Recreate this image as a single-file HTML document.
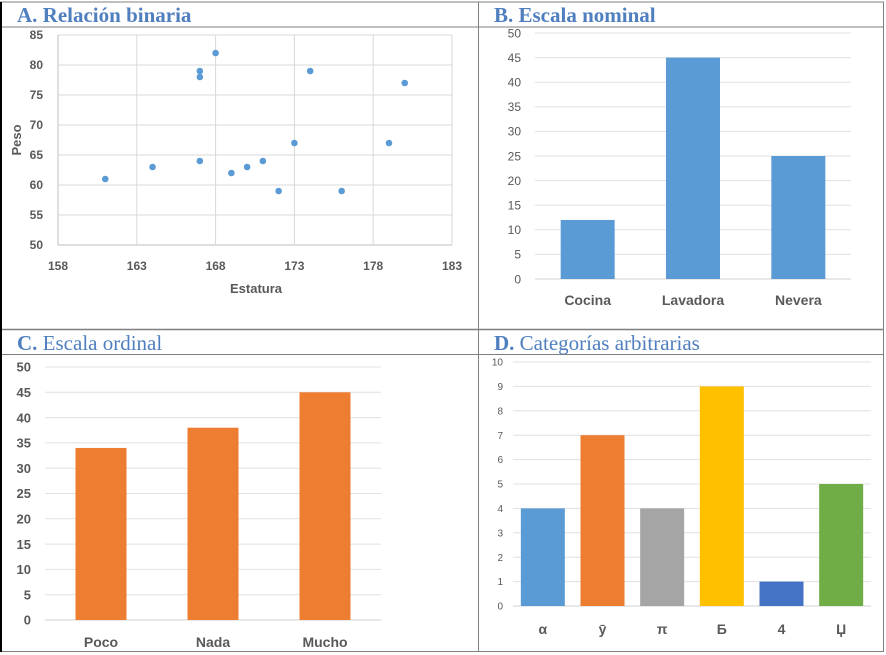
<!DOCTYPE html>
<html><head><meta charset="utf-8"><style>
body{margin:0;background:#fff}
svg{display:block}
.t{font-family:"Liberation Serif","DejaVu Serif",serif;font-size:21px;fill:#4f7fbf}
.ax{font-family:"Liberation Sans","DejaVu Sans",sans-serif;fill:#595959}
</style></head><body>
<svg id="s" width="886" height="655" viewBox="0 0 886 655" xmlns="http://www.w3.org/2000/svg">
<rect x="0" y="0" width="886" height="655" fill="#fff"/>
<g stroke="#7f7f7f" fill="none">
<line x1="0" y1="2" x2="884" y2="2"/>
<line x1="1" y1="27" x2="884" y2="27"/>
<line x1="1" y1="329.5" x2="884" y2="329.5" stroke-width="1.5"/>
<line x1="1" y1="354.5" x2="884" y2="354.5"/>
<line x1="1" y1="651.5" x2="884" y2="651.5"/>
<line x1="478.5" y1="2" x2="478.5" y2="652"/>
<line x1="883.5" y1="2" x2="883.5" y2="652"/>
<line x1="1" y1="2" x2="1" y2="652" stroke="#000" stroke-width="2"/>
</g>
<text class="t" x="17" y="22" font-weight="bold">A. Relación binaria</text>
<text class="t" x="494" y="22" font-weight="bold">B. Escala nominal</text>
<text class="t" x="17" y="350"><tspan font-weight="bold">C.</tspan> Escala ordinal</text>
<text class="t" x="494" y="350"><tspan font-weight="bold">D.</tspan> Categorías arbitrarias</text>
<g id="A"></g>
<g id="B"></g>
<g id="C"></g>
<g id="D"></g>
</svg>
<script>
const scatterX=[161,164,167,167,167,168,169,170,171,172,173,174,176,179,180];
const scatterY=[61,63,79,78,64,82,62,63,64,59,67,79,59,67,77];
const scatterXTicks=[158,163,168,173,178,183];
const scatterYTicks=[50,55,60,65,70,75,80,85];
const nominalCats=["Cocina","Lavadora","Nevera"];
const nominalVals=[12,45,25];
const nominalTicks=[0,5,10,15,20,25,30,35,40,45,50];
const ordinalCats=["Poco","Nada","Mucho"];
const ordinalVals=[34,38,45];
const ordinalTicks=[0,5,10,15,20,25,30,35,40,45,50];
const arbCats=["α","ȳ","π","Б","4","Џ"];
const arbVals=[4,7,4,9,1,5];
const arbTicks=[0,1,2,3,4,5,6,7,8,9,10];
const arbColors=["#5b9bd5","#ed7d31","#a5a5a5","#ffc000","#4472c4","#70ad47"];
const NS="http://www.w3.org/2000/svg";
function mk(p,tag,a,txt){const e=document.createElementNS(NS,tag);for(const k in a)e.setAttribute(k,a[k]);if(txt!==undefined)e.textContent=txt;p.appendChild(e);return e;}

(function(){
const g=document.getElementById('A');
const x0=58,x1=452,y0=245,y1=35;
const sx=v=>x0+(v-158)/(183-158)*(x1-x0);
const sy=v=>y0-(v-50)/(85-50)*(y0-y1);
scatterYTicks.forEach(t=>{
const l=mk(g,'line',{x1:x0,x2:x1,y1:sy(t),y2:sy(t),stroke:t===50?'#bfbfbf':'#d9d9d9'});


const tx=mk(g,'text',{x:43,y:sy(t)+4,'text-anchor':'end','font-size':12,'font-weight':'bold',class:'ax'},t);


});
scatterXTicks.forEach(t=>{
const l=mk(g,'line',{x1:sx(t),x2:sx(t),y1:y1,y2:y0,stroke:t===158?'#bfbfbf':'#d9d9d9'});


const tx=mk(g,'text',{x:sx(t),y:270,'text-anchor':'middle','font-size':12,'font-weight':'bold',class:'ax'},t);


});
scatterX.forEach((v,i)=>{
const c=mk(g,'circle',{cx:sx(v),cy:sy(scatterY[i]),r:3.3,fill:'#5b9bd5'});


});
const xt=mk(g,'text',{x:256,y:293,'text-anchor':'middle','font-size':13,'font-weight':'bold',class:'ax'},'Estatura');


const yt=mk(g,'text',{x:0,y:0,'text-anchor':'middle','font-size':13,'font-weight':'bold',class:'ax',transform:'translate(21,140) rotate(-90)'},'Peso');


})();

function bars(id,cats,vals,ticks,o){
const g=document.getElementById(id);
const max=ticks[ticks.length-1];
const sy=v=>o.y0-v/max*(o.y0-o.y1);
const step=(o.x1-o.x0)/cats.length;
ticks.forEach(t=>{
const l=mk(g,'line',{x1:o.x0,x2:o.x1,y1:sy(t),y2:sy(t),stroke:t===0?'#d0d0d0':'#e0e0e0'});


const tx=mk(g,'text',{x:o.lx,y:sy(t)+o.tf*0.36,'text-anchor':'end','font-size':o.tf,'font-weight':o.tb?'bold':'normal',class:'ax'},t);


});
cats.forEach((c,i)=>{
const cx=o.x0+step*(i+0.5);
const r=mk(g,'rect',{x:cx-o.bw/2,y:sy(vals[i]),width:o.bw,height:sy(0)-sy(vals[i]),fill:o.colors?o.colors[i]:o.color});


const tx=mk(g,'text',{x:cx,y:o.cy,'text-anchor':'middle','font-size':o.cf,'font-weight':'bold',class:'ax'},c);


});
}
bars('B',nominalCats,nominalVals,nominalTicks,{x0:535,x1:851,y0:279,y1:33,bw:54,lx:521,tf:12,tb:false,cy:305,cf:14,color:'#5b9bd5'});
bars('C',ordinalCats,ordinalVals,ordinalTicks,{x0:45,x1:381,y0:620,y1:367,bw:51,lx:31,tf:13,tb:true,cy:647,cf:14,color:'#ed7d31'});
bars('D',arbCats,arbVals,arbTicks,{x0:513,x1:871,y0:606,y1:362,bw:44,lx:503,tf:10,tb:false,cy:634,cf:14,colors:arbColors});
</script>
</body></html>
